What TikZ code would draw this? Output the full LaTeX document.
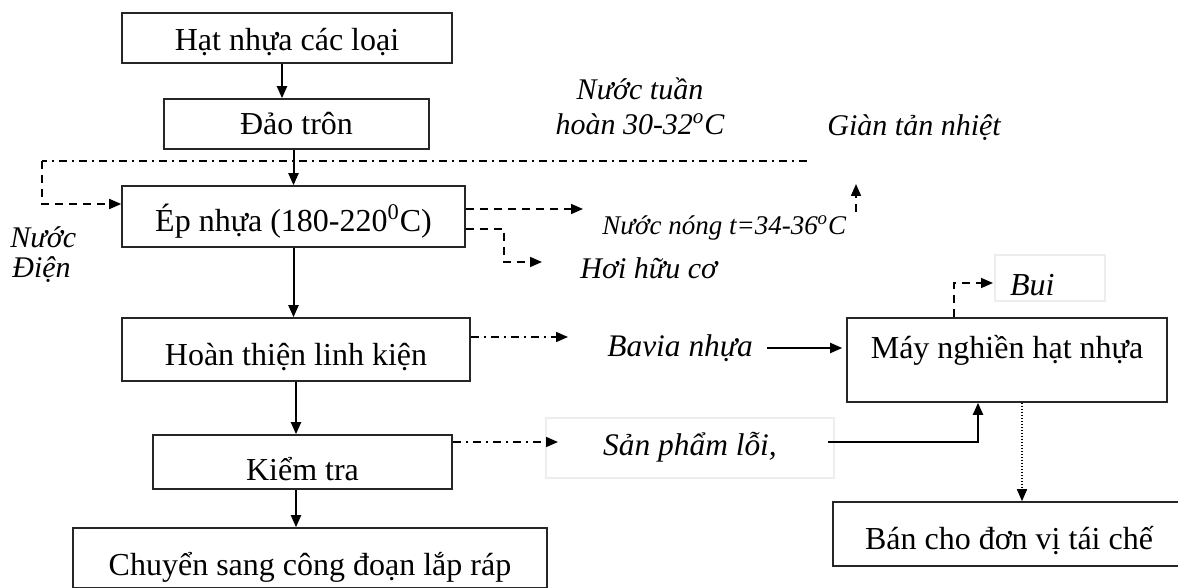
\documentclass[tikz,border=0pt]{standalone}
\usepackage{fontspec}
\setmainfont{Liberation Serif}
\usetikzlibrary{arrows.meta,calc}
\begin{document}
\begin{tikzpicture}[x=0.5pt,y=-0.5pt,
  stepbox/.style={draw=black!85,line width=0.8pt,rectangle,inner sep=0pt,
    font=\fontsize{16}{19}\selectfont,text height=17.5pt,text depth=2pt},
  lbl/.style={inner sep=0pt,font=\fontsize{15}{17.5}\selectfont\itshape},
  faint/.style={draw=black!7,line width=0.6pt,rectangle,inner sep=0pt},
  tip/.style={-{Triangle[length=6pt,width=5pt]}},
  flow/.style={line width=1pt,tip},
  dashflow/.style={line width=0.8pt,dash pattern=on 4pt off 3pt},
  dotdash/.style={line width=0.8pt,dash pattern=on 4pt off 2.5pt on 1pt off 2.5pt},
  dotline/.style={line width=0.8pt,dash pattern=on 0.6pt off 0.9pt}]
\useasboundingbox (0,0) rectangle (1178,588);

% main production line
\node[stepbox,minimum width=165pt,minimum height=25pt,text height=14.5pt] (hat) at (287,38) {Hạt nhựa các loại};
\node[stepbox,minimum width=132.5pt,minimum height=25pt,text height=13pt] (dao) at (296.5,124) {Đảo trôn};
\node[stepbox,minimum width=171.5pt,minimum height=30.5pt] (ep) at (293.5,216.5) {Ép nhựa (180-220\textsuperscript{0}C)};
\node[stepbox,minimum width=174pt,minimum height=31.5pt] (hoan) at (296,349.5) {Hoàn thiện linh kiện};
\node[stepbox,minimum width=149.5pt,minimum height=27pt,text height=20pt] (kiem) at (302.5,462) {Kiểm tra};
\node[stepbox,minimum width=237pt,minimum height=30pt,text height=19.5pt] (chuyen) at (310,558) {Chuyển sang công đoạn lắp ráp};

% grinding and recycling
\node[stepbox,minimum width=160pt,minimum height=42pt,text height=11pt,text depth=13pt] (may) at (1007,360) {Máy nghiền hạt nhựa};
\node[stepbox,minimum width=176pt,minimum height=32pt] (ban) at (1009,534) {Bán cho đơn vị tái chế};

% side labels
\node[lbl,anchor=west] (nuoc) at (10,237) {Nước};
\node[lbl,anchor=west] (dien) at (12,270) {Điện};
\node[lbl,align=center] (tuan) at (640,106) {Nước tuần\\hoàn 30-32\textsuperscript{o}C};
\node[lbl,anchor=west] (gian) at (827,128) {Giàn tản nhiệt};
\node[lbl,anchor=west,font=\fontsize{13.5}{16}\selectfont\itshape] (nong) at (602,228) {Nước nóng t=34-36\textsuperscript{o}C};
\node[lbl,anchor=west] (hoi) at (580,268) {Hơi hữu cơ};
\node[lbl,anchor=west,font=\fontsize{15.7}{18}\selectfont\itshape] (bavia) at (607,348) {Bavia nhựa};
\node[faint,minimum width=144pt,minimum height=30pt,text height=11pt,text depth=4pt,
  font=\fontsize{15.7}{18}\selectfont\itshape] (sp) at (690,448) {Sản phẩm lỗi,};
\node[faint,minimum height=23pt,text width=40pt,align=left,inner xsep=7.5pt,
  text height=19pt,text depth=1.6pt,font=\fontsize{16}{18}\selectfont\itshape] (bui) at (1050,278) {Bui};

% free ends of the side streams
\coordinate (loopR) at (807,161);
\coordinate (loopL) at (42,161);
\coordinate (nongIn) at (583,209);
\coordinate (hoiIn) at (542,262);
\coordinate (gianOut) at (856,212);
\coordinate (gianIn) at (856,184);
\coordinate (baviaIn) at (568,337);
\coordinate (spIn) at (558,442);
\coordinate (buiIn) at (993,283);
\coordinate (hatOut) at ($(hat.south)+(-5,0)$);
\coordinate (mayOut) at ($(may.south)+(15,0)$);

% main flow
\draw[flow] (hatOut) -- (hatOut |- dao.north);
\draw[flow] (ep.north |- dao.south) -- (ep.north);
\draw[flow] (ep.south) -- (ep.south |- hoan.north);
\draw[flow] (hoan.south) -- (hoan.south |- kiem.north);
\draw[flow] (hoan.south |- kiem.south) -- (hoan.south |- chuyen.north);

% circulating water and power
\draw[dotdash] (loopR) -- (loopL);
\draw[dashflow,tip] (loopL) |- ($(ep.west)+(0,-12.5)$);

% emissions of the moulding step
\draw[dashflow,tip] ($(ep.east)+(0,-7.5)$) -- (nongIn);
\draw[dashflow,tip] ($(ep.east)+(0,12.5)$) -- ++(38,0) |- (hoiIn);
\draw[dashflow,tip] (gianOut) -- (gianIn);

% scrap to the grinder
\draw[dotdash,tip] ($(hoan.east)+(0,-12.5)$) -- (baviaIn);
\draw[flow] ([xshift=7pt]bavia.east) -- ([xshift=-2pt]may.west |- bavia.east);
\draw[dotdash,tip] ($(kiem.east)+(0,-20)$) -- (spIn);
\draw[flow] ($(sp.east)+(-7,-6)$) -| ($(may.south)+(-29,0)$);
\draw[dashflow,tip] ($(may.north)+(-53,0)$) |- (buiIn);
\draw[dotline,tip] (mayOut) -- (mayOut |- ban.north);
\end{tikzpicture}
\end{document}
